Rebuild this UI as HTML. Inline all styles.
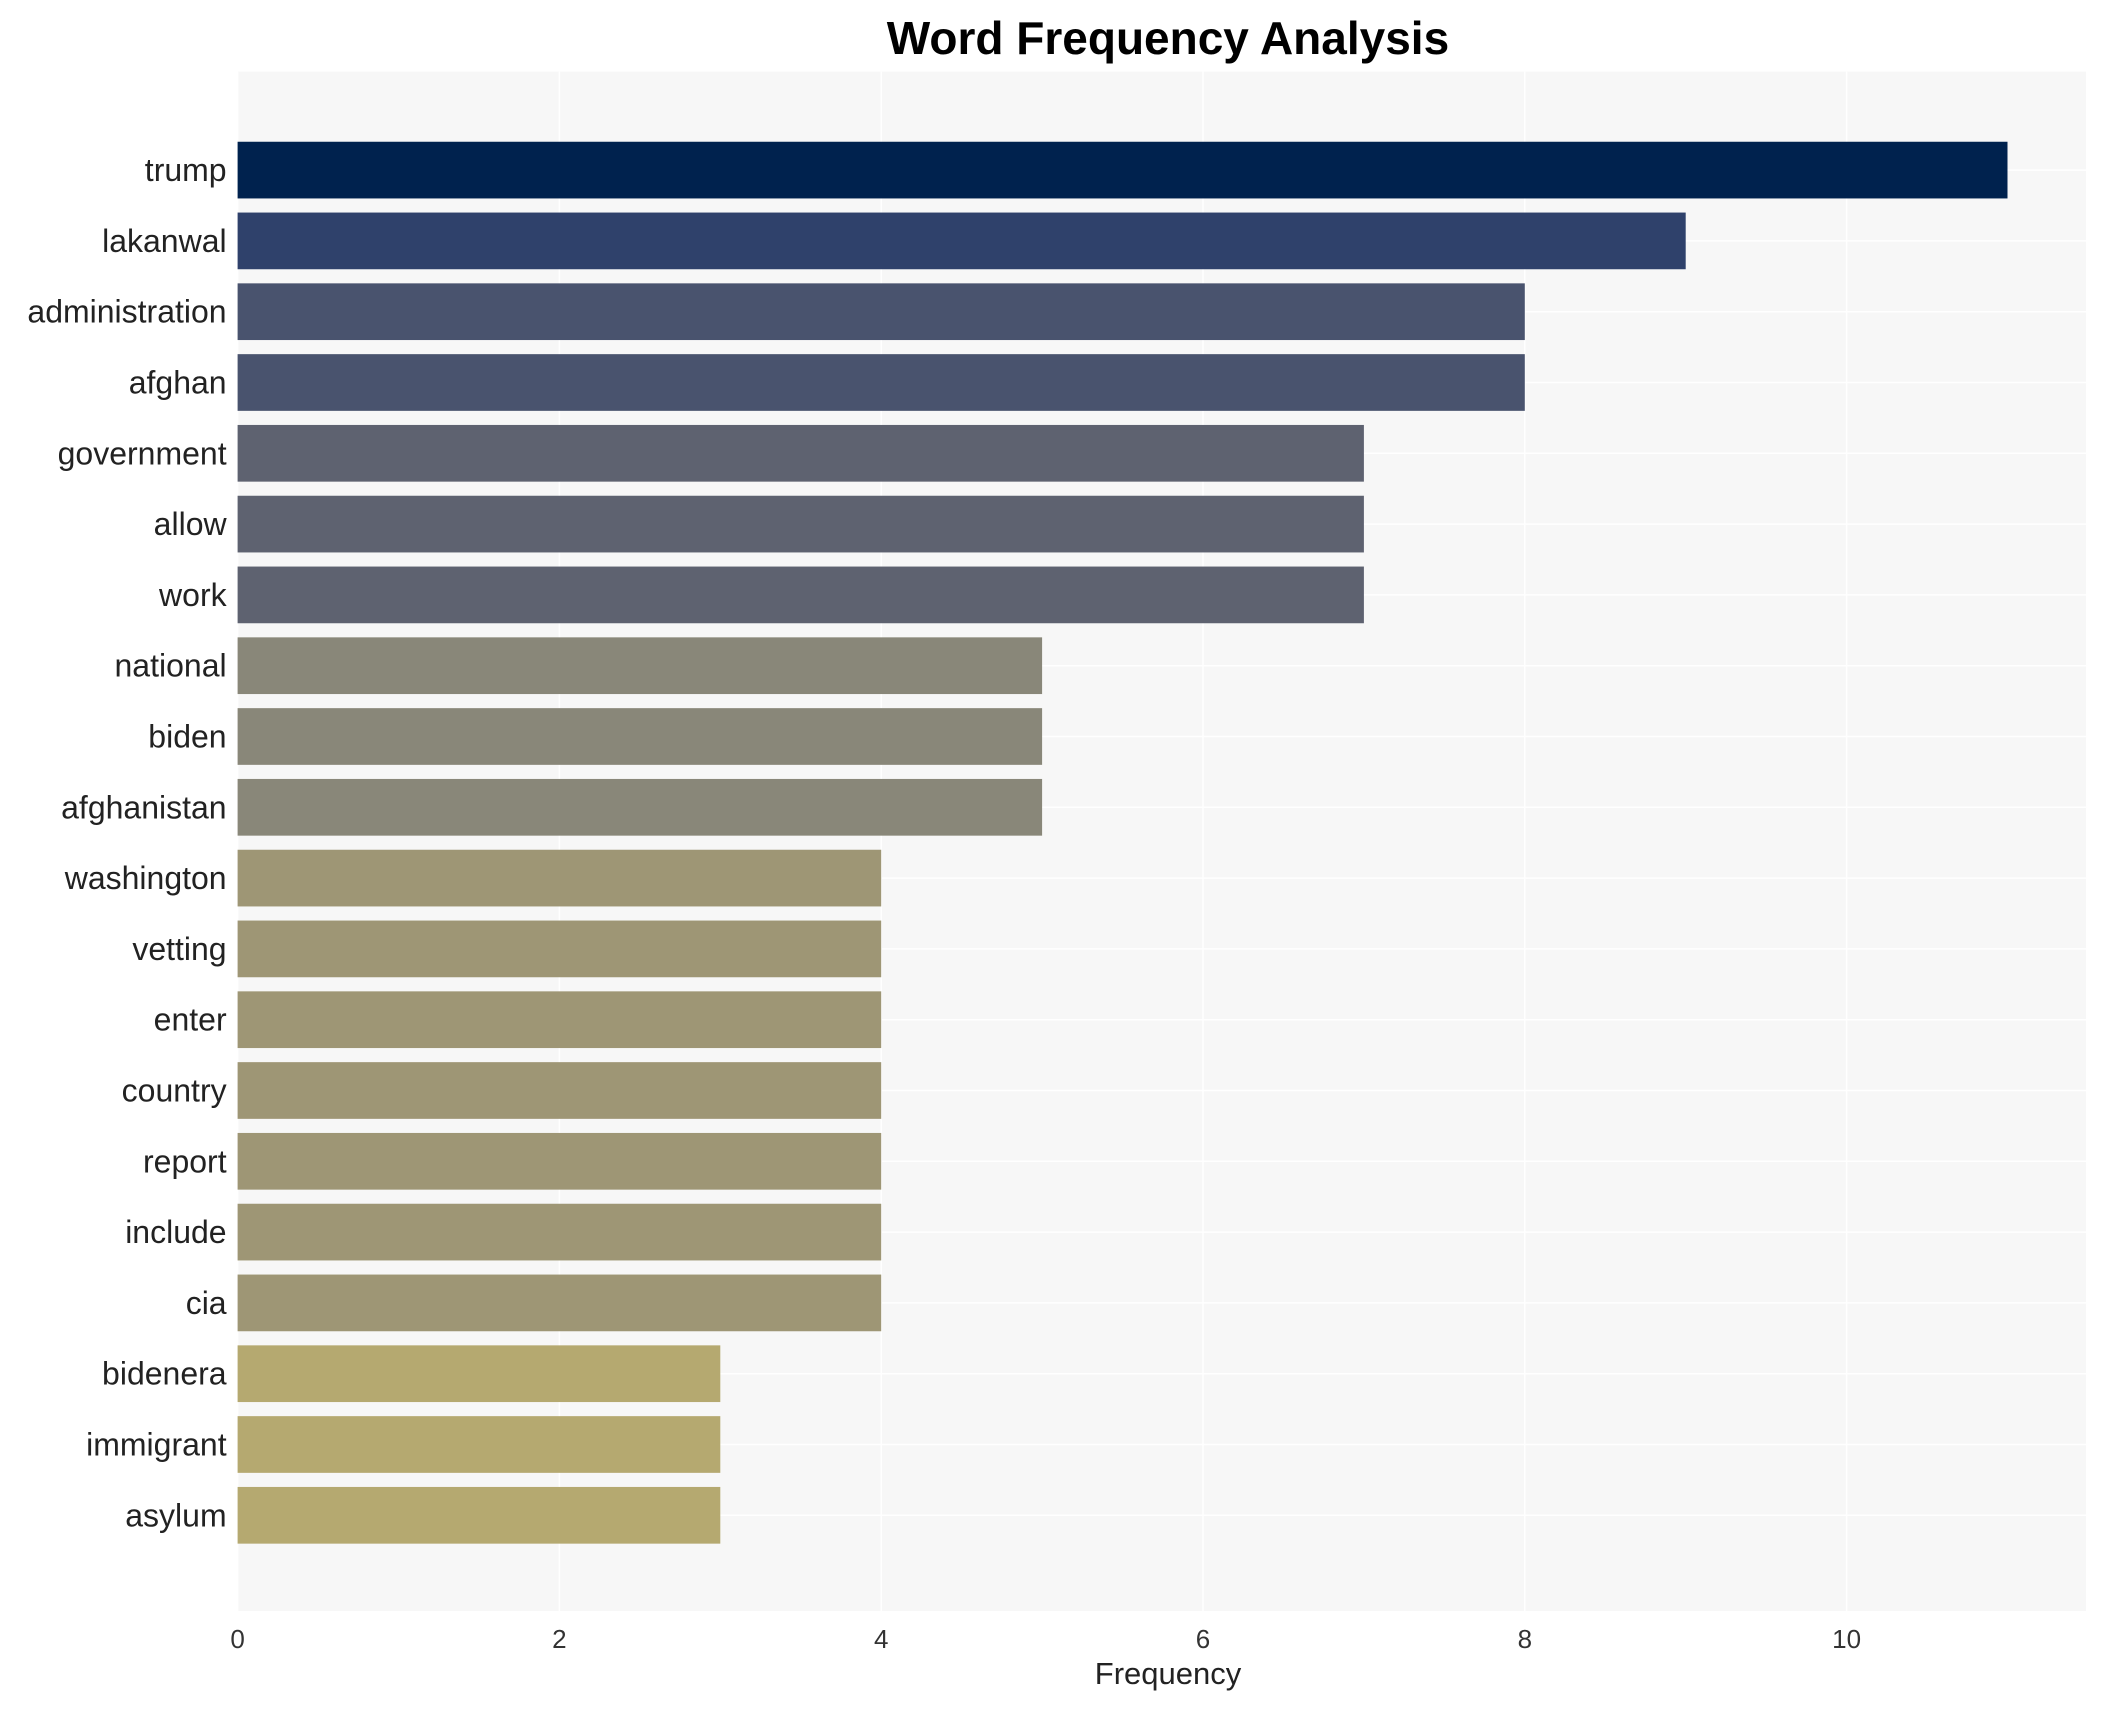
<!DOCTYPE html>
<html><head><meta charset="utf-8"><style>
body{margin:0;background:#fff;font-family:"Liberation Sans",Arial,sans-serif}
</style></head><body>
<svg id="chart" width="2117" height="1710" xmlns="http://www.w3.org/2000/svg" font-family="Liberation Sans, Arial, sans-serif">
<rect width="2117" height="1710" fill="#fff"/>
<text x="1168" y="54" text-anchor="middle" font-size="46" font-weight="bold" fill="#000">Word Frequency Analysis</text>
<g id="plot"></g>
<text x="1168" y="1684" text-anchor="middle" font-size="31" fill="#222">Frequency</text>
</svg>
<script>
const words=["trump","lakanwal","administration","afghan","government","allow","work","national","biden","afghanistan","washington","vetting","enter","country","report","include","cia","bidenera","immigrant","asylum"];
const counts=[11,9,8,8,7,7,7,5,5,5,4,4,4,4,4,4,4,3,3,3];
const xTicks=[0,2,4,6,8,10];
const colorMap={11:"#00224e",9:"#2f416b",8:"#49536e",7:"#5e6270",5:"#898779",4:"#9e9675",3:"#b5a970"};
const L=237.6,R=2086,T=71.6,B=1611;
const x=v=>L+v*160.9;
const y=i=>170.1+i*70.8;
const bh=56.7;
const ns="http://www.w3.org/2000/svg";
const g=document.getElementById('plot');
function mk(t,a){const e=document.createElementNS(ns,t);for(const k in a)e.setAttribute(k,a[k]);g.appendChild(e);return e;}
const bg=mk('rect',{x:L,y:T,width:R-L,height:B-T,fill:'#f7f7f7'});


xTicks.forEach(v=>{
 const l=mk('line',{x1:x(v),x2:x(v),y1:T,y2:B,stroke:'#fff','stroke-width':1.5});
 
 
 const t=mk('text',{x:x(v),y:B+37,'text-anchor':'middle','font-size':26,fill:'#333'});
 t.textContent=v;
 
 
});
words.forEach((w,i)=>{
 const l=mk('line',{x1:L,x2:R,y1:y(i),y2:y(i),stroke:'#fff','stroke-width':1.5});
 
 
});
words.forEach((w,i)=>{
 const r=mk('rect',{x:x(0),y:y(i)-bh/2,width:x(counts[i])-x(0),height:bh,fill:colorMap[counts[i]]||'#9e9675'});
 
 
 const t=mk('text',{x:L-11,y:y(i)+11,'text-anchor':'end','font-size':32,fill:'#222'});
 t.textContent=w;
 
 
});
</script>
</body></html>
